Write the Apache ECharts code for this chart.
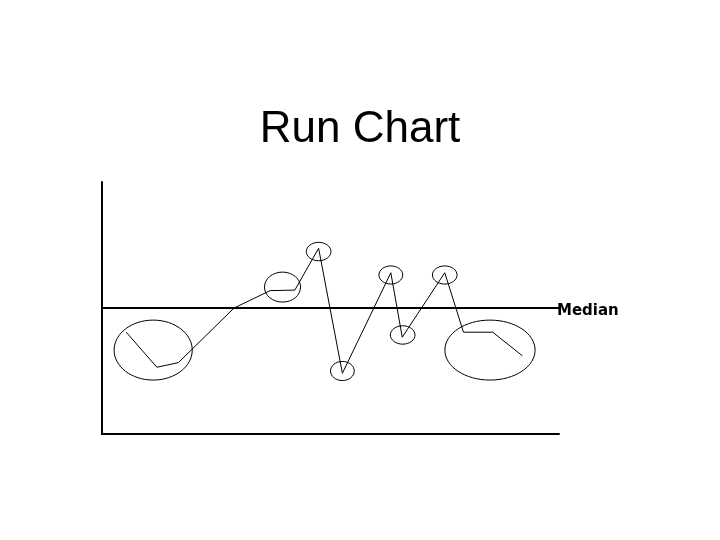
<!DOCTYPE html>
<html>
<head>
<meta charset="utf-8">
<script src="https://cdn.jsdelivr.net/npm/echarts@6/dist/echarts.min.js"></script>
<style>
    html, body { margin: 0; padding: 0; background: #fff; }
    #main { width: 720px; height: 540px; }
</style>
</head>
<body>
<div id="main"></div>
<script>
// run points (x = time position, y = measured value), 0..100 scale
const runX = [5.3, 12.0, 16.7, 28.9, 36.8, 42.2, 47.4, 52.6, 63.2, 65.7, 75.0, 79.1, 85.5, 92.0];
const runY = [40.4, 26.5, 28.3, 50.0, 56.9, 57.1, 73.7, 24.1, 64.0, 38.4, 64.0, 40.4, 40.4, 31.0];
const medianValue = 50;

// rings drawn round the points of interest: centre and radii in data units
const ringX = [11.2, 39.5, 47.4, 52.6, 63.2, 65.8, 75.0, 84.9];
const ringY = [33.3, 58.3, 72.4, 25.0, 63.1, 39.3, 63.1, 33.3];
const ringRx = [8.55, 3.95, 2.7, 2.6, 2.6, 2.7, 2.7, 9.87];
const ringRy = [11.9, 5.95, 3.65, 3.8, 3.6, 3.65, 3.6, 11.9];

window.onload = function () {
    let chart = echarts.init(document.getElementById('main'));

    let runData = runX.map((x, i) => [x, runY[i]]);
    let ringData = ringX.map((x, i) => [x, ringY[i], ringRx[i], ringRy[i]]);

    let option = {
        backgroundColor: '#fff',
        animation: false,
        title: {
            text: 'Run Chart',
            left: 'center',
            top: 103,
            textStyle: {
                color: '#000',
                fontSize: 44,
                fontWeight: 'normal',
                fontFamily: 'Liberation Sans, Arial, sans-serif'
            }
        },
        grid: {
            left: 102,
            right: 161,
            top: 182,
            bottom: 106
        },
        xAxis: {
            type: 'value',
            min: 0,
            max: 100,
            axisLine: { show: true, lineStyle: { color: '#000', width: 2 } },
            axisTick: { show: false },
            axisLabel: { show: false },
            splitLine: { show: false }
        },
        yAxis: {
            type: 'value',
            min: 0,
            max: 100,
            axisLine: { show: true, lineStyle: { color: '#000', width: 2 } },
            axisTick: { show: false },
            axisLabel: { show: false },
            splitLine: { show: false }
        },
        series: [
            {
                name: 'run',
                type: 'line',
                data: runData,
                symbol: 'none',
                lineStyle: { color: '#000', width: 1 },
                markLine: {
                    silent: true,
                    symbol: 'none',
                    lineStyle: { color: '#000', width: 2, type: 'solid' },
                    label: {
                        show: true,
                        position: 'end',
                        distance: -2,
                        formatter: '{m|Median}',
                        rich: {
                            m: {
                                color: '#000',
                                fontSize: 15,
                                fontWeight: 'bold',
                                fontFamily: 'DejaVu Sans, sans-serif',
                                padding: [7, 0, 0, 0]
                            }
                        }
                    },
                    data: [{ yAxis: medianValue }]
                }
            },
            {
                name: 'rings',
                type: 'custom',
                data: ringData,
                renderItem: function (params, api) {
                    let c = api.coord([api.value(0), api.value(1)]);
                    let s = api.size([api.value(2), api.value(3)]);
                    return {
                        type: 'ellipse',
                        shape: { cx: c[0], cy: c[1], rx: s[0], ry: s[1] },
                        style: { fill: 'none', stroke: '#000', lineWidth: 1 }
                    };
                }
            }
        ]
    };
    chart.setOption(option);
};
</script>
</body>
</html>
